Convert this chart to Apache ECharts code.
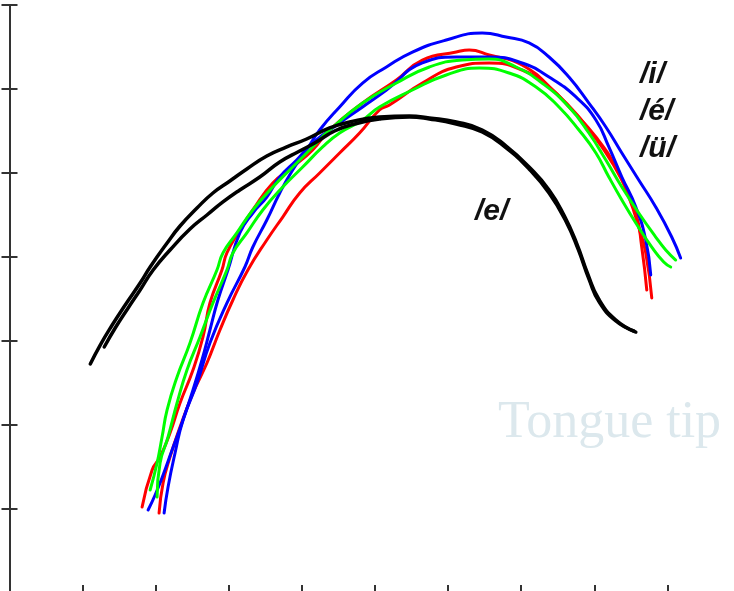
<!DOCTYPE html>
<html>
<head>
<meta charset="utf-8">
<script src="https://cdn.jsdelivr.net/npm/echarts@6/dist/echarts.min.js"></script>
<style>
  html, body { margin: 0; padding: 0; background: #ffffff; }
  #chart { width: 734px; height: 591px; }
</style>
</head>
<body>
<div id="chart"></div>
<script>
// Tongue contours (x, y in mm) for four vowels, two repetitions each.
const contourE1 = [[11.05,27.26],[12.41,29.52],[14.05,31.9],[15.83,34.29],[17.87,36.9],[19.24,38.81],[21.56,41.67],[23.33,43.69],[25.65,45.83],[27.83,47.62],[30.15,49.05],[32.47,50.48],[35.2,52.02],[37.93,53.1],[40.65,54.05],[43.79,55.36],[46.52,56.07],[50.61,56.67],[54.71,56.79],[57.44,56.55],[61.12,56.07],[64.67,55.12],[67.94,53.21],[71.08,50.71],[73.81,47.98],[75.9,44.9],[77.6,41.6],[79.1,38.0],[80.6,35.0],[82.95,32.5],[85.68,31.07]];
const contourE2 = [[12.96,29.29],[14.46,31.55],[16.23,33.93],[17.87,36.07],[19.65,38.45],[21.96,40.83],[24.69,43.33],[27.01,45.0],[29.2,46.55],[31.51,47.98],[34.24,49.52],[36.97,51.31],[39.7,52.62],[41.75,53.57],[44.47,55.0],[47.2,55.83],[50.61,56.43],[54.71,56.67],[57.44,56.43],[61.12,55.83],[64.67,54.88],[67.94,52.98],[71.08,50.48],[73.81,47.62],[76.1,44.3],[77.8,40.9],[79.3,37.3],[80.7,34.6],[82.95,32.38],[85.4,31.19]];
const contourI1 = [[21.15,9.52],[21.69,12.62],[22.65,16.67],[23.74,20.6],[25.65,25.0],[27.42,29.76],[29.74,34.52],[32.2,38.81],[33.29,41.19],[35.2,44.4],[36.97,47.62],[38.74,50.36],[40.65,52.74],[42.43,55.12],[45.16,57.86],[48.3,60.71],[51.57,62.62],[55.12,64.4],[59.75,65.83],[64.67,66.67],[67.94,66.19],[71.08,65.48],[73.81,63.81],[76.53,61.43],[79.26,58.33],[81.58,55.48],[83.77,52.38],[86.08,49.17],[88.4,45.95],[90.59,42.38],[91.81,39.88]];
const contourI2 = [[18.96,9.88],[19.92,11.67],[21.01,14.05],[22.24,17.02],[23.74,20.6],[25.1,24.17],[26.33,27.74],[27.42,31.31],[28.51,34.88],[29.88,38.45],[31.51,42.86],[33.29,45.24],[35.2,47.14],[36.97,49.52],[39.29,51.55],[41.47,53.57],[45.16,55.95],[48.3,57.86],[51.57,59.88],[56.48,63.1],[61.12,63.81],[65.62,63.81],[70.12,63.1],[73.81,61.43],[77.49,59.05],[80.22,56.31],[81.99,53.1],[83.77,49.52],[85.68,45.95],[87.04,42.02],[87.72,37.86]];
const contourEe1 = [[18.14,10.24],[19.51,14.64],[20.6,16.19],[21.96,19.05],[23.33,22.62],[25.1,26.55],[26.47,30.48],[27.42,34.52],[29.06,38.45],[29.74,40.48],[31.51,43.21],[33.29,45.6],[36.02,48.81],[38.74,50.71],[41.47,52.74],[43.79,55.12],[48.3,58.33],[52.93,61.07],[56.48,63.45],[61.12,64.4],[62.89,64.64],[65.62,64.05],[70.12,62.86],[74.76,59.52],[77.9,56.67],[81.04,53.1],[83.77,49.17],[85.68,45.24],[86.49,41.19],[87.18,36.07]];
const contourEe2 = [[20.46,9.52],[21.01,13.1],[21.96,16.19],[23.33,19.76],[25.1,23.81],[27.01,27.38],[28.79,31.31],[30.56,34.88],[32.61,38.45],[35.2,42.02],[37.38,44.76],[39.7,47.62],[42.43,50.0],[45.16,52.38],[47.89,54.76],[50.61,57.5],[51.98,58.1],[56.48,60.71],[61.12,62.62],[65.62,63.1],[70.12,62.26],[73.81,60.24],[76.94,57.5],[80.22,54.29],[82.95,50.71],[84.72,47.14],[86.08,43.57],[87.04,40.48],[87.86,35.12]];
const contourU1 = [[19.24,12.26],[20.19,15.48],[20.87,18.57],[21.56,21.79],[22.92,25.71],[24.69,29.76],[26.47,34.52],[28.38,38.45],[29.2,40.48],[31.1,42.86],[33.29,45.6],[36.02,48.33],[38.74,50.71],[41.47,53.1],[43.79,55.12],[48.3,58.33],[52.93,60.71],[57.44,62.62],[61.94,63.45],[65.62,63.57],[69.3,62.62],[72.85,60.71],[76.53,57.86],[79.26,54.76],[81.58,51.55],[83.77,48.33],[86.08,45.24],[88.4,42.38],[89.77,40.83],[91.13,39.64]];
const contourU2 = [[20.19,11.43],[20.6,15.48],[21.69,18.57],[22.92,22.62],[24.28,26.55],[26.06,30.48],[27.83,34.52],[29.74,38.45],[30.56,40.48],[32.47,42.86],[34.65,45.6],[37.38,48.33],[40.11,50.71],[42.84,53.1],[45.16,54.76],[48.3,56.31],[50.61,57.86],[55.12,59.88],[59.75,61.67],[64.26,62.5],[68.35,61.9],[72.03,60.24],[75.17,57.86],[77.9,55.12],[80.22,52.38],[81.99,49.52],[83.77,46.79],[85.68,44.05],[87.86,41.19],[89.5,39.4],[90.45,38.81]];

const vowelLabels = ['/i/', '/é/', '/ü/'];
const backLabel = '/e/';
const tipLabel = 'Tongue tip';

const chart = echarts.init(document.getElementById('chart'), null, { renderer: 'canvas' });

const frameLine = { show: true, lineStyle: { color: '#333333', width: 2 } };
const frameTick = { show: true, inside: true, length: 8, lineStyle: { color: '#333333', width: 2 } };

function axisX(position) {
  return {
    type: 'value', position: position, min: 0, max: 100, interval: 10,
    axisLine: frameLine, axisTick: frameTick,
    axisLabel: { show: false }, splitLine: { show: false }
  };
}
function axisY(position) {
  return {
    type: 'value', position: position, min: 0, max: 70, interval: 10,
    axisLine: frameLine, axisTick: frameTick,
    axisLabel: { show: false }, splitLine: { show: false }
  };
}

function contour(data, color, width) {
  return {
    type: 'line', data: data, smooth: 0.5, showSymbol: false, symbol: 'none',
    lineStyle: { color: color, width: width, cap: 'round', join: 'round' },
    silent: true, animation: false
  };
}

const labelFont = 'italic bold 30px "Liberation Sans", Arial, sans-serif';

chart.setOption({
  backgroundColor: '#ffffff',
  animation: false,
  grid: { left: 9.5, top: 5, width: 731, height: 588, outerBoundsMode: 'none', containLabel: false },
  xAxis: [axisX('bottom'), axisX('top')],
  yAxis: [axisY('left'), axisY('right')],
  series: [
    contour(contourEe1, '#ff0000', 3),
    contour(contourEe2, '#ff0000', 3),
    contour(contourI1, '#0000ff', 3),
    contour(contourI2, '#0000ff', 3),
    contour(contourU1, '#00ff00', 3),
    contour(contourU2, '#00ff00', 3),
    contour(contourE1, '#000000', 3.5),
    contour(contourE2, '#000000', 3.5)
  ],
  graphic: [
    { type: 'text', left: 640, top: 60, style: { text: vowelLabels[0], font: labelFont, fill: '#111111' } },
    { type: 'text', left: 640, top: 97, style: { text: vowelLabels[1], font: labelFont, fill: '#111111' } },
    { type: 'text', left: 640, top: 134, style: { text: vowelLabels[2], font: labelFont, fill: '#111111' } },
    { type: 'text', left: 475, top: 197, style: { text: backLabel, font: labelFont, fill: '#111111' } },
    { type: 'text', left: 498, top: 397, style: { text: tipLabel, font: '52px "Liberation Serif", "Times New Roman", serif', fill: '#dce8ed' } }
  ]
});
</script>
</body>
</html>
